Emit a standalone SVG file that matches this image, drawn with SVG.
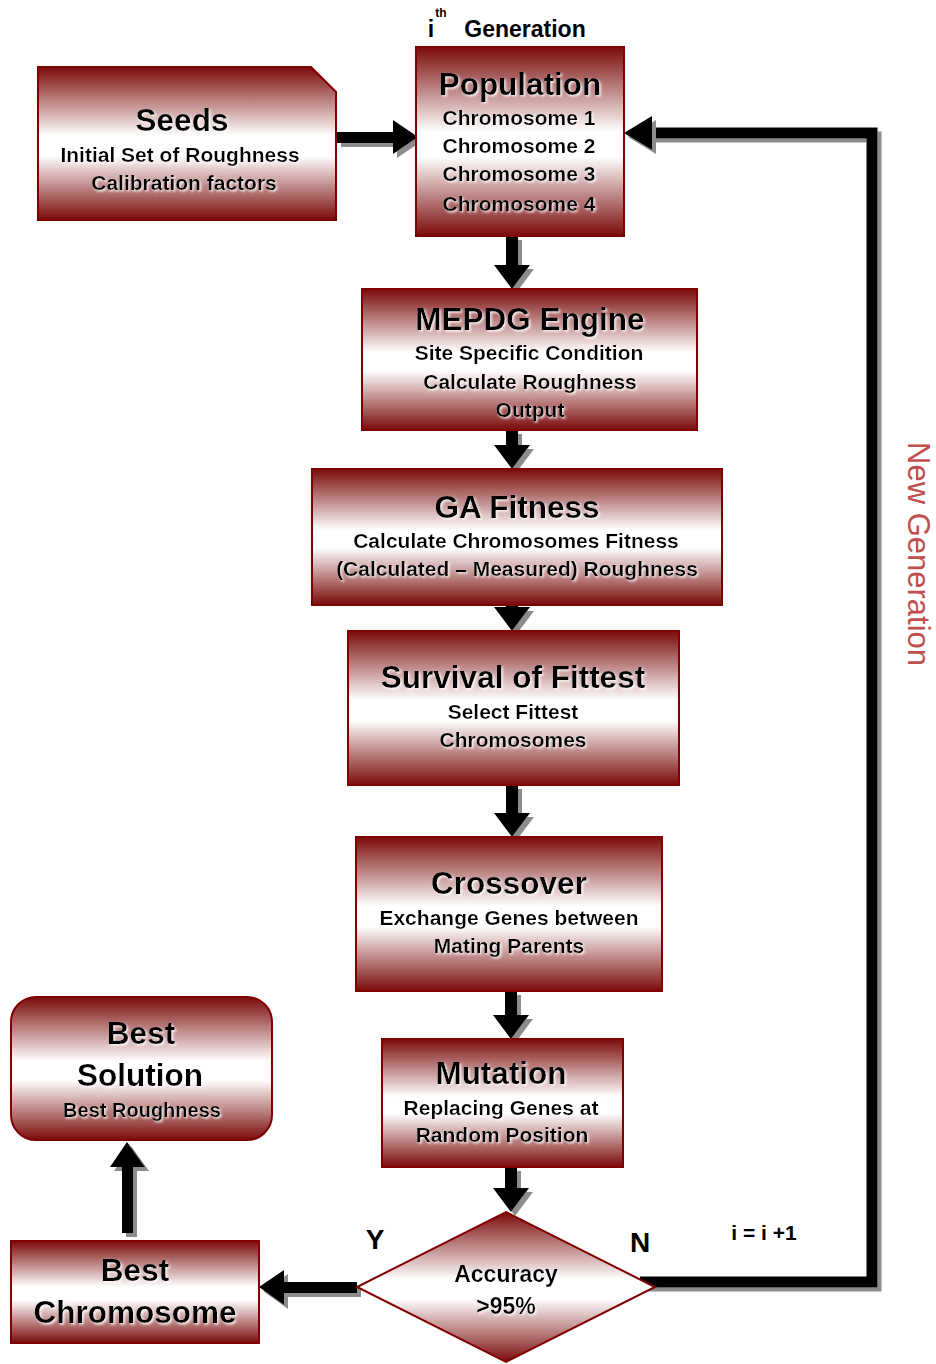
<svg xmlns="http://www.w3.org/2000/svg" width="936" height="1364" viewBox="0 0 936 1364">
<defs>
<linearGradient id="g" x1="0" y1="0" x2="0" y2="1">
<stop offset="0" stop-color="#7a0a0a"/>
<stop offset="0.45" stop-color="#ffffff"/>
<stop offset="0.58" stop-color="#ffffff"/>
<stop offset="1" stop-color="#7a0a0a"/>
</linearGradient>
<filter id="sh" x="-20%" y="-20%" width="150%" height="150%">
<feDropShadow dx="4" dy="4" stdDeviation="0.6" flood-color="#8c8c8c"/>
</filter>
<filter id="ts" x="-10%" y="-20%" width="120%" height="150%">
<feDropShadow dx="1.5" dy="1.5" stdDeviation="0.8" flood-color="#ffffff" flood-opacity="0.9"/>
</filter>
</defs>
<style>
.box{fill:url(#g);stroke:#800000;stroke-width:2}
text{font-family:"Liberation Sans",Arial,sans-serif;font-weight:bold;fill:#000;text-anchor:middle}
.t{font-size:31.5px;filter:url(#ts)}
.s{font-size:21px;filter:url(#ts)}
.lbl{font-size:28px}
.arr{fill:#000;filter:url(#sh)}
.line{fill:none;stroke:#000;stroke-width:11;stroke-linejoin:miter;filter:url(#sh)}
</style>

<g id="connectors">
<polygon class="arr" points="337,132 393,132 393,120 418,137 393,154 393,143 337,143"/>
<polygon class="arr" points="506,236 518,236 518,265 530,265 512,289 494,265 506,265"/>
<polygon class="arr" points="506,430 518,430 518,445 530,445 512,469 494,445 506,445"/>
<polygon class="arr" points="506,605 518,605 518,607 530,607 512,631 494,607 506,607"/>
<polygon class="arr" points="506,785 518,785 518,813 530,813 512,837 494,813 506,813"/>
<polygon class="arr" points="505,991 517,991 517,1015 529,1015 511,1039 493,1015 505,1015"/>
<polygon class="arr" points="505,1167 517,1167 517,1188 529,1188 511,1212 493,1188 505,1188"/>
<polyline class="line" points="640,1282 872,1282 872,133 650,133"/>
<polygon class="arr" points="652,116 624,133 652,150"/>
<polygon class="arr" points="357,1282 357,1293 284,1293 284,1305 259,1287 284,1270 284,1282"/>
<polygon class="arr" points="122,1233 133,1233 133,1167 145,1167 127,1142 110,1167 122,1167"/>
</g>

<g id="seeds">
<polygon class="box" points="38,67 311,67 336,92 336,220 38,220"/>
<text class="t" x="182" y="131">Seeds</text>
<text class="s" x="180" y="162">Initial Set of Roughness</text>
<text class="s" x="184" y="190">Calibration factors</text>
</g>

<g id="generation-label">
<text x="431" y="37" style="font-size:23px">i</text>
<text x="441" y="17" style="font-size:12px">th</text>
<text x="525" y="37" style="font-size:23px">Generation</text>
</g>

<g id="population">
<rect class="box" x="416" y="47" width="208" height="189"/>
<text class="t" x="520" y="95">Population</text>
<text class="s" x="519" y="125">Chromosome 1</text>
<text class="s" x="519" y="153">Chromosome 2</text>
<text class="s" x="519" y="181">Chromosome 3</text>
<text class="s" x="519" y="211">Chromosome 4</text>
</g>

<g id="mepdg">
<rect class="box" x="362" y="289" width="335" height="141"/>
<text class="t" x="530" y="330">MEPDG Engine</text>
<text class="s" x="529" y="360">Site Specific Condition</text>
<text class="s" x="530" y="389">Calculate Roughness</text>
<text class="s" x="530" y="417">Output</text>
</g>

<g id="ga-fitness">
<rect class="box" x="312" y="469" width="410" height="136"/>
<text class="t" x="517" y="518">GA Fitness</text>
<text class="s" x="516" y="548">Calculate Chromosomes Fitness</text>
<text class="s" x="517" y="576">(Calculated – Measured) Roughness</text>
</g>

<g id="survival">
<rect class="box" x="348" y="631" width="331" height="154"/>
<text class="t" x="513" y="688">Survival of Fittest</text>
<text class="s" x="513" y="719">Select Fittest</text>
<text class="s" x="513" y="747">Chromosomes</text>
</g>

<g id="crossover">
<rect class="box" x="356" y="837" width="306" height="154"/>
<text class="t" x="509" y="894">Crossover</text>
<text class="s" x="509" y="925">Exchange Genes between</text>
<text class="s" x="509" y="953">Mating Parents</text>
</g>

<g id="mutation">
<rect class="box" x="382" y="1039" width="241" height="128"/>
<text class="t" x="501" y="1084">Mutation</text>
<text class="s" x="501" y="1115">Replacing Genes at</text>
<text class="s" x="502" y="1142">Random Position</text>
</g>

<g id="accuracy">
<polygon class="box" points="506,1212 655,1287 506,1362 357,1287"/>
<text x="506" y="1282" style="font-size:23px;filter:url(#ts)">Accuracy</text>
<text x="506" y="1314" style="font-size:23px;filter:url(#ts)">&gt;95%</text>
</g>

<g id="labels">
<text class="lbl" x="375" y="1249">Y</text>
<text class="lbl" x="640" y="1252">N</text>
<text x="764" y="1240" style="font-size:21px">i = i +1</text>
<text transform="translate(908,554) rotate(90)" style="font-size:31px;font-weight:normal;fill:#c0504d">New Generation</text>
</g>

<g id="best-solution">
<rect class="box" x="11" y="997" width="261" height="143" rx="25" ry="25"/>
<text class="t" x="141" y="1044">Best</text>
<text class="t" x="140" y="1086">Solution</text>
<text class="s" x="142" y="1117" style="font-size:20px">Best Roughness</text>
</g>

<g id="best-chromosome">
<rect class="box" x="11" y="1241" width="248" height="102"/>
<text class="t" x="135" y="1281">Best</text>
<text class="t" x="135" y="1323">Chromosome</text>
</g>
</svg>
